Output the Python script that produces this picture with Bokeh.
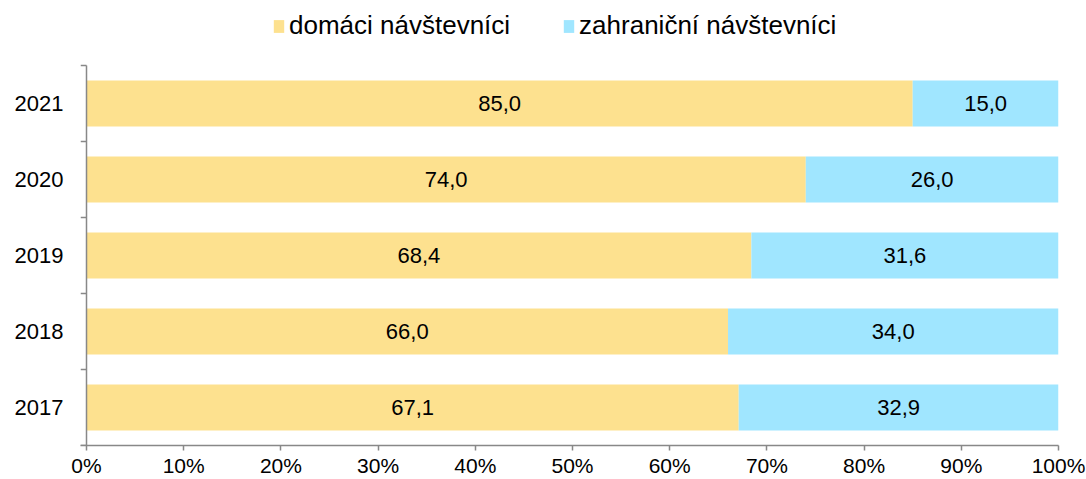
from bokeh.plotting import figure
from bokeh.models import ColumnDataSource, FixedTicker, PrintfTickFormatter, Legend, LegendItem, Range1d
from bokeh.core.properties import value
from bokeh.embed import file_html
from bokeh.resources import INLINE

years = ["2017", "2018", "2019", "2020", "2021"]
domestic = [67.1, 66.0, 68.4, 74.0, 85.0]
foreign = [32.9, 34.0, 31.6, 26.0, 15.0]
series_names = ["domáci návštevníci", "zahraniční návštevníci"]
x_ticks = [0, 10, 20, 30, 40, 50, 60, 70, 80, 90, 100]

FONT = "Liberation Sans"
YELLOW = "#FDE18F"
BLUE = "#A0E6FF"
AXIS = "#888888"

n = len(years)
ypos = list(range(n))
fmt = lambda v: f"{v:.1f}".replace(".", ",")
src = ColumnDataSource(dict(
    y=ypos,
    dom=domestic,
    zah=foreign,
    total=[d + f for d, f in zip(domestic, foreign)],
    zero=[0] * n,
    dom_mid=[d / 2 for d in domestic],
    zah_mid=[d + f / 2 for d, f in zip(domestic, foreign)],
    dom_lbl=[fmt(v) for v in domestic],
    zah_lbl=[fmt(v) for v in foreign],
))

# frame: left 80px, right 1058px, top 0, bottom 445px ; categories 76px each
px_per_x = 972 / 100.0
px_per_y = 76.0
x_start = -6 / px_per_x
y_end = -0.5 + 445 / px_per_y

p = figure(width=1086, height=479, output_backend="svg", toolbar_location=None,
           x_range=Range1d(x_start, 100), y_range=Range1d(-0.5, y_end),
           min_border_left=80, min_border_right=28, min_border_top=0, min_border_bottom=34)
p.outline_line_color = None
p.xgrid.visible = False
p.ygrid.visible = False

r1 = p.hbar(y="y", left="zero", right="dom", height=0.605, fill_color=YELLOW, line_color=None, source=src)
r2 = p.hbar(y="y", left="dom", right="total", height=0.605, fill_color=BLUE, line_color=None, source=src)

p.text(x="dom_mid", y="y", text="dom_lbl", source=src, text_align="center", text_baseline="middle",
       text_font=value(FONT), text_font_size="22px", text_color="black")
p.text(x="zah_mid", y="y", text="zah_lbl", source=src, text_align="center", text_baseline="middle",
       text_font=value(FONT), text_font_size="22px", text_color="black")

# category axis line and boundary ticks
bounds = [i - 0.5 for i in range(n + 1)]
p.segment(x0=[0], y0=[-0.5], x1=[0], y1=[n - 0.5], line_color=AXIS, line_width=1.5)
p.segment(x0=[x_start] * len(bounds), y0=bounds, x1=[0] * len(bounds), y1=bounds,
          line_color=AXIS, line_width=1.5)

# x axis
xa = p.xaxis[0]
xa.ticker = FixedTicker(ticks=x_ticks, minor_ticks=[])
xa.formatter = PrintfTickFormatter(format="%d%%")
xa.axis_line_color = AXIS
xa.axis_line_width = 1.5
xa.major_tick_line_color = AXIS
xa.major_tick_line_width = 1.5
xa.major_tick_out = 5
xa.major_tick_in = 0
xa.minor_tick_line_color = None
xa.major_label_text_font = FONT
xa.major_label_text_font_size = "21px"
xa.major_label_text_color = "black"
xa.major_label_standoff = 3

# y axis (labels only)
ya = p.yaxis[0]
ya.ticker = FixedTicker(ticks=ypos, minor_ticks=[])
ya.major_label_overrides = {i: y for i, y in enumerate(years)}
ya.axis_line_color = None
ya.major_tick_line_color = None
ya.minor_tick_line_color = None
ya.major_tick_out = 0
ya.major_tick_in = 0
ya.major_label_text_font = FONT
ya.major_label_text_font_size = "22px"
ya.major_label_text_color = "black"
ya.major_label_standoff = 17

legend = Legend(items=[LegendItem(label=series_names[0], renderers=[r1]),
                       LegendItem(label=series_names[1], renderers=[r2])],
                orientation="horizontal", location=(192, 404),
                border_line_color=None, background_fill_alpha=0,
                padding=0, margin=0, spacing=52, label_standoff=4,
                glyph_width=13, glyph_height=16,
                label_text_font=FONT, label_text_font_size="26px", label_text_color="black")
p.add_layout(legend, "center")

open("out.html", "w").write(file_html(p, INLINE))
